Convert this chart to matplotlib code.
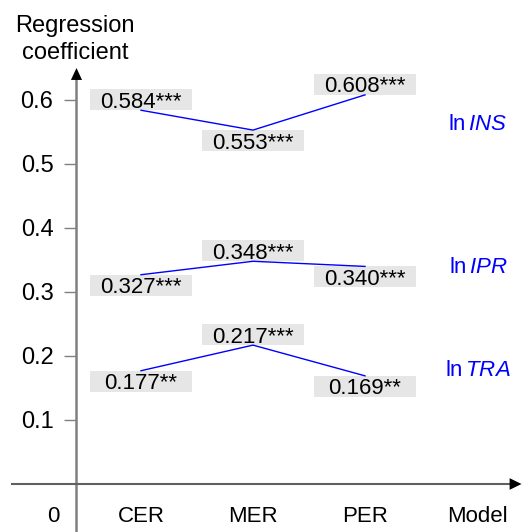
import matplotlib
matplotlib.use("Agg")
import matplotlib.pyplot as plt
from matplotlib.patches import Rectangle

plt.rcParams["font.family"] = ["Liberation Sans", "DejaVu Sans"]
plt.rcParams["mathtext.fontset"] = "custom"
plt.rcParams["mathtext.rm"] = "Liberation Sans"
plt.rcParams["mathtext.it"] = "Liberation Sans:italic"

# Regression coefficients by model
models = ["CER", "MER", "PER"]
ins_coef = [0.584, 0.553, 0.608]
ipr_coef = [0.327, 0.348, 0.340]
tra_coef = [0.177, 0.217, 0.169]
ins_sig = ["***", "***", "***"]
ipr_sig = ["***", "***", "***"]
tra_sig = ["**", "***", "**"]
series_names = ["INS", "IPR", "TRA"]
y_ticks = [0.1, 0.2, 0.3, 0.4, 0.5, 0.6]
y_tick_labels = ["0.1", "0.2", "0.3", "0.4", "0.5", "0.6"]
x_tick_labels = ["0"] + models + ["Model"]

FS = 16
FS_AX = 17
BLUE = "#0000ff"

fig = plt.figure(figsize=(5.22, 5.32), dpi=100)
ax = fig.add_axes([0, 0, 1, 1])
ax.set_xlim(-0.259, 4.402)
ax.set_ylim(-0.075, 0.75625)

xpos = [1, 2, 3]
y_axis_x = 0.424

# Axes lines (spines) crossing at the origin
for s in ("top", "right"):
    ax.spines[s].set_visible(False)
ax.spines["left"].set_position(("data", y_axis_x))
ax.spines["left"].set_color("#808080")
ax.spines["left"].set_linewidth(1.8)
ax.spines["left"].set_bounds(-0.075, 0.64)
ax.spines["bottom"].set_position(("data", 0))
ax.spines["bottom"].set_color("#606060")
ax.spines["bottom"].set_linewidth(1.5)
ax.spines["bottom"].set_bounds(-0.152, 4.33)

# Arrow heads
ax.annotate("", xy=(y_axis_x, 0.65), xytext=(y_axis_x, 0.62),
            arrowprops=dict(arrowstyle="-|>,head_length=0.86,head_width=0.4",
                            color="black", lw=0, mutation_scale=10,
                            shrinkA=0, shrinkB=0))
ax.annotate("", xy=(4.398, 0), xytext=(4.3, 0),
            arrowprops=dict(arrowstyle="-|>,head_length=0.86,head_width=0.42",
                            color="black", lw=0, mutation_scale=10,
                            shrinkA=0, shrinkB=0))

ax.set_yticks(y_ticks)
ax.set_yticklabels(y_tick_labels, fontsize=FS_AX)
ax.tick_params(axis="y", direction="out", length=8.6, width=1,
               color="#808080", pad=8)
ax.set_xticks([0.214, 1, 2, 3, 4])
ax.set_xticklabels(x_tick_labels, fontsize=FS)
ax.tick_params(axis="x", length=0, pad=16)

ax.text(0.411, 0.7335, "Regression\ncoefficient", ha="center", va="top",
        fontsize=FS_AX, linespacing=1.3)

# Coefficient lines with value boxes
box_w = 0.911
box_h = 0.0328
all_coef = [ins_coef, ipr_coef, tra_coef]
all_sig = [ins_sig, ipr_sig, tra_sig]
for coef, sig in zip(all_coef, all_sig):
    ax.plot(xpos, coef, color=BLUE, lw=1.0, zorder=2)
    for i, (x, v) in enumerate(zip(xpos, coef)):
        neighbors = [coef[j] for j in (i - 1, i + 1) if 0 <= j < len(coef)]
        above = all(v >= n for n in neighbors)
        y0 = v if above else v - box_h
        ax.add_patch(Rectangle((x - box_w / 2, y0), box_w, box_h,
                               facecolor="#e6e6e6", edgecolor="none", zorder=1))
        ax.text(x, y0 + box_h / 2, f"{v:.3f}{sig[i]}", ha="center",
                va="center_baseline", fontsize=FS, zorder=3)

# Series labels
label_y = [0.561, 0.339, 0.178]
for name, y in zip(series_names, label_y):
    ax.text(4.01, y, r"ln$\,\mathit{" + name + "}$", ha="center",
            va="center", fontsize=FS, color=BLUE)

fig.savefig("out.png", dpi=100)
